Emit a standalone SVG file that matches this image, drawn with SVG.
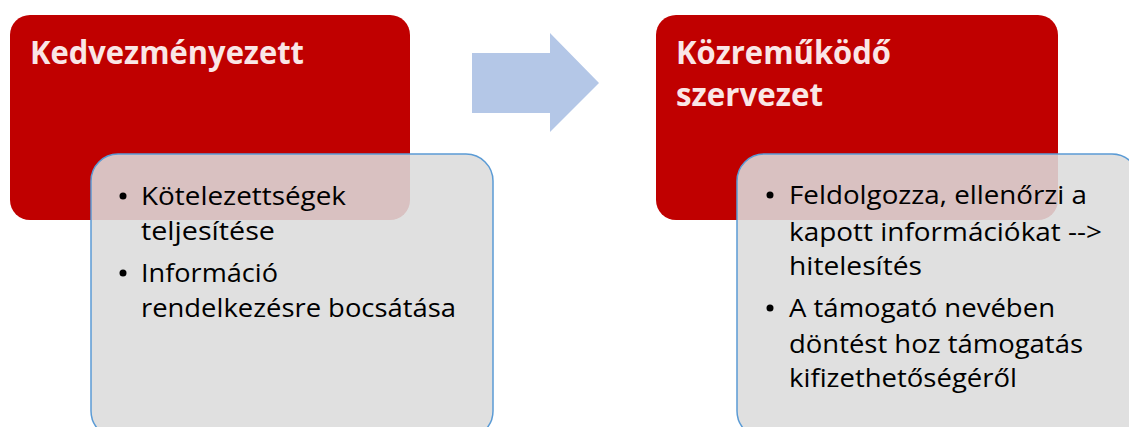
<svg xmlns="http://www.w3.org/2000/svg" width="1129" height="427" viewBox="0 0 1129 427">
<style>
.red{fill:#c00000;}
.grey{fill:#dcdcdc;fill-opacity:0.88;stroke:#5b9bd5;stroke-width:1.5;}
.title{font-family:"Open Sans","Liberation Sans",sans-serif;font-weight:bold;font-size:32px;fill:#fae6e6;}
.body{font-family:"Open Sans","Liberation Sans",sans-serif;font-size:25px;fill:#000;}
.dot{fill:#000;}
</style>
<rect width="1129" height="427" fill="#ffffff"/>
<g id="node-kedvezmenyezett">
<rect class="red" x="10" y="15" width="400" height="205" rx="20"/>
<text class="title" x="30" y="64" textLength="274" lengthAdjust="spacingAndGlyphs">Kedvezményezett</text>
</g>
<g id="node-kedvezmenyezett-details">
<rect class="grey" x="91" y="154" width="402" height="284" rx="27"/>
<circle class="dot" cx="123" cy="196" r="3.5"/>
<text class="body" x="141" y="205" textLength="205" lengthAdjust="spacingAndGlyphs">Kötelezettségek</text>
<text class="body" x="141" y="240" textLength="134" lengthAdjust="spacingAndGlyphs">teljesítése</text>
<circle class="dot" cx="123" cy="273" r="3.5"/>
<text class="body" x="141" y="282" textLength="137" lengthAdjust="spacingAndGlyphs">Információ</text>
<text class="body" x="141" y="317" textLength="315" lengthAdjust="spacingAndGlyphs">rendelkezésre bocsátása</text>
</g>
<g id="connectors">
<polygon points="472,53 550,53 550,33 599,83 550,132 550,113 472,113" fill="#b4c7e7"/>
</g>
<g id="node-kozremukodo">
<rect class="red" x="656" y="15" width="402" height="205" rx="20"/>
<text class="title" x="676" y="64" textLength="215" lengthAdjust="spacingAndGlyphs">Közreműködő</text>
<text class="title" x="676" y="106" textLength="147" lengthAdjust="spacingAndGlyphs">szervezet</text>
</g>
<g id="node-kozremukodo-details">
<rect class="grey" x="737" y="154" width="402" height="284" rx="27"/>
<circle class="dot" cx="770" cy="195" r="3.5"/>
<text class="body" x="789" y="204" textLength="298" lengthAdjust="spacingAndGlyphs">Feldolgozza, ellenőrzi a</text>
<text class="body" x="789" y="241" textLength="313" lengthAdjust="spacingAndGlyphs">kapott információkat --&gt;</text>
<text class="body" x="789" y="275" textLength="133" lengthAdjust="spacingAndGlyphs">hitelesítés</text>
<circle class="dot" cx="770" cy="308" r="3.5"/>
<text class="body" x="789" y="317" textLength="266" lengthAdjust="spacingAndGlyphs">A támogató nevében</text>
<text class="body" x="789" y="353" textLength="294" lengthAdjust="spacingAndGlyphs">döntést hoz támogatás</text>
<text class="body" x="789" y="387" textLength="228" lengthAdjust="spacingAndGlyphs">kifizethetőségéről</text>
</g>
</svg>
